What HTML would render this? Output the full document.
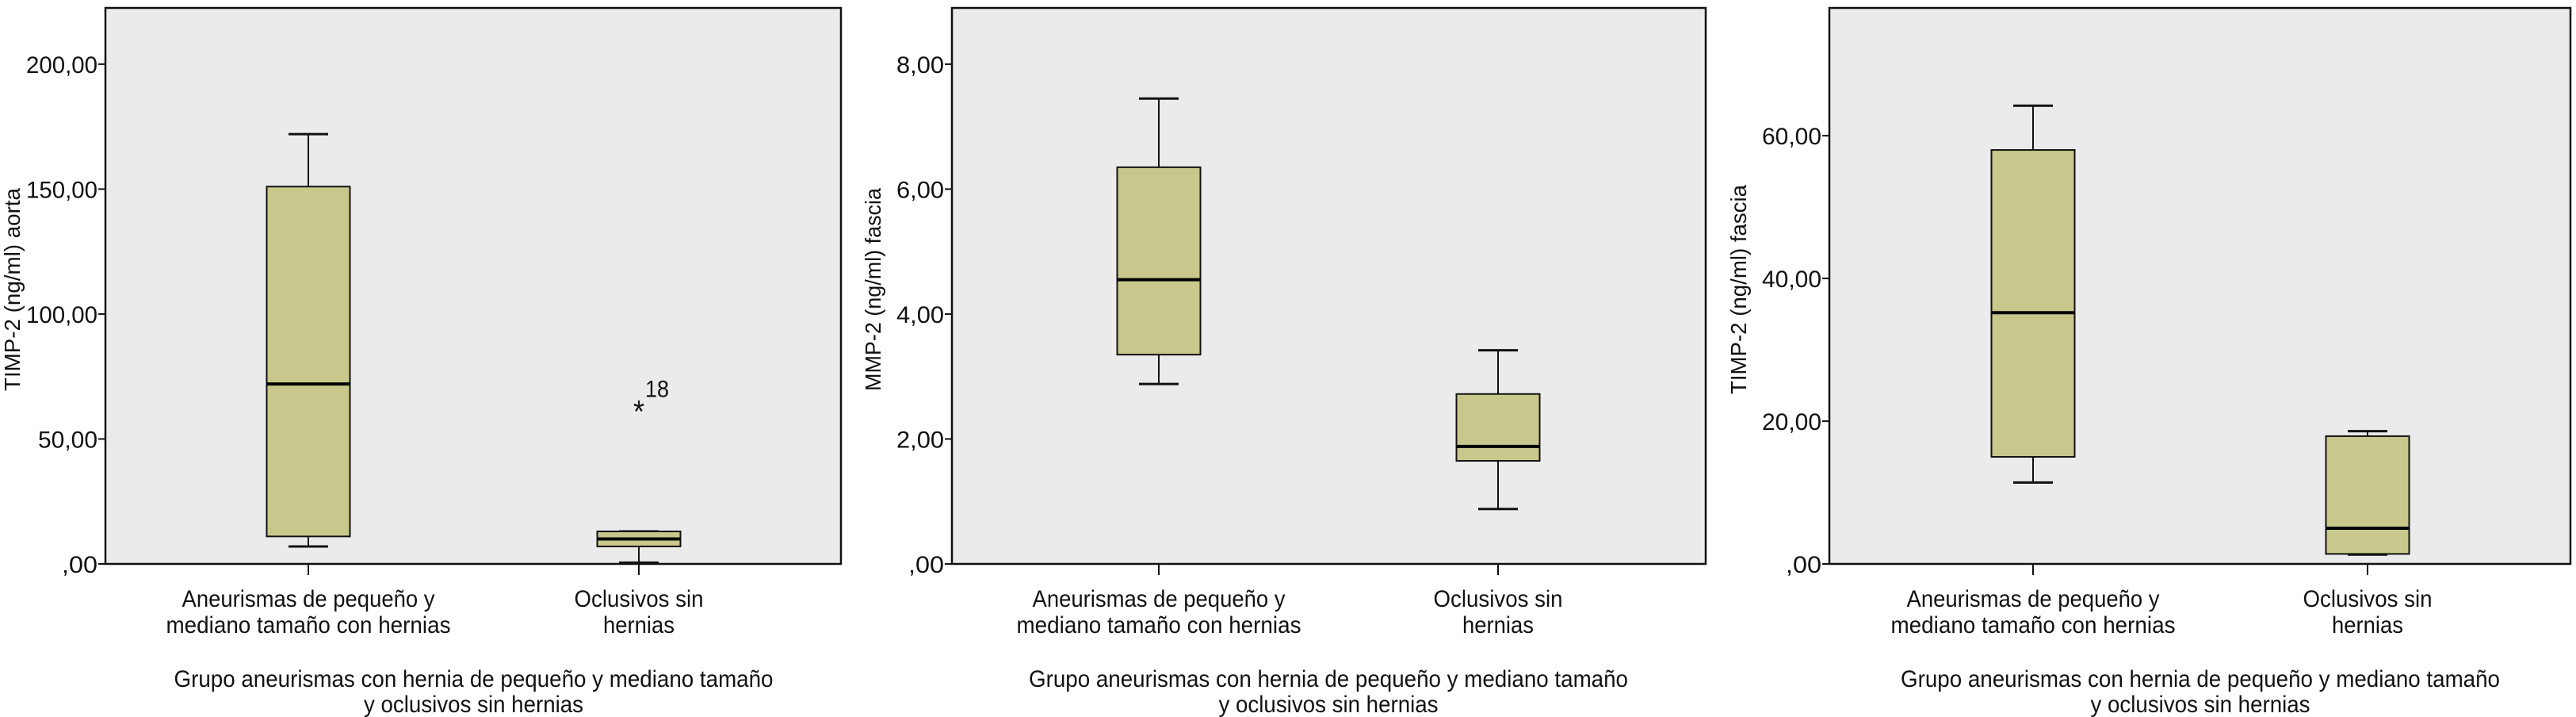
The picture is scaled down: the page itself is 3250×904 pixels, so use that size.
<!DOCTYPE html>
<html><head><meta charset="utf-8"><style>
html,body{margin:0;padding:0;background:#fff;}
svg{display:block;font-family:"Liberation Sans Narrow","Liberation Sans",sans-serif;}
</style></head><body>
<svg id="c" width="3250" height="904" viewBox="0 0 3250 904" xmlns="http://www.w3.org/2000/svg"></svg>
<script>
const categories = ["Aneurismas de pequeño y|mediano tamaño con hernias", "Oclusivos sin|hernias"];
const p1Stats = [[7, 11, 72, 151, 172], [0.5, 7, 10, 13, 13]];
const p1Outliers = [[], [{v: 63, label: "18"}]];
const p1Ticks = [0, 50, 100, 150, 200];
const p1TickLabels = [",00", "50,00", "100,00", "150,00", "200,00"];
const p2Stats = [[2.88, 3.35, 4.55, 6.35, 7.45], [0.88, 1.65, 1.88, 2.72, 3.42]];
const p2Ticks = [0, 2, 4, 6, 8];
const p2TickLabels = [",00", "2,00", "4,00", "6,00", "8,00"];
const p3Stats = [[11.4, 15, 35.2, 58, 64.2], [1.3, 1.4, 5, 17.9, 18.6]];
const p3Ticks = [0, 20, 40, 60];
const p3TickLabels = [",00", "20,00", "40,00", "60,00"];

const NS = "http://www.w3.org/2000/svg";
const svg = document.getElementById("c");
function mk(tag, attrs, parent) {
  const e = document.createElementNS(NS, tag);
  for (const k in attrs) e.setAttribute(k, attrs[k]);
  (parent || svg).appendChild(e);
  return e;
}
function txt(parent, x, y, s, len, anchor, extra) {
  const t = mk("text", Object.assign({x: x, y: y, "font-size": 30, fill: "#111", "text-anchor": anchor || "middle"}, extra || {}), parent);
  if (len) { t.setAttribute("textLength", len); t.setAttribute("lengthAdjust", "spacingAndGlyphs"); }
  t.textContent = s;
  return t;
}
const catW = [[319, 359], [163, 90]];
function panel(cfg) {
  const g = mk("g", {});
  
  
  const top = 10, bot = 711;
  const y = v => bot - (v / cfg.max) * (bot - top);
  const bg = mk("rect", {x: cfg.left, y: top, width: cfg.right - cfg.left, height: bot - top, fill: "#ebebeb", stroke: "#111", "stroke-width": 2.5}, g);
  
  
  // y ticks
  cfg.ticks.forEach((tv, i) => {
    const yy = y(tv);
    const tk = mk("line", {x1: cfg.left - 9, x2: cfg.left, y1: yy, y2: yy, stroke: "#111", "stroke-width": 2}, g);
    
    
    const lab = cfg.tickLabels[i];
    const w = lab.length * 15;
    const tl = txt(g, cfg.left - 10, yy + 11, lab, w, "end");
    
    
  });
  // y title
  const yt = txt(g, 0, 0, cfg.ylabel, cfg.ylen, "middle", {transform: "translate(" + (cfg.ylx + 10) + ",365) rotate(-90)", "font-family": "Liberation Sans, sans-serif", "font-size": 28});
  
  
  // boxes
  cfg.stats.forEach((s, i) => {
    const cx = cfg.centers[i], hw = 52.5, cw = 25;
    const bx = mk("g", {}, g);
    
    
    mk("line", {x1: cx, x2: cx, y1: y(s[3]), y2: y(s[4]), stroke: "#111", "stroke-width": 2}, bx);
    mk("line", {x1: cx, x2: cx, y1: y(s[1]), y2: y(s[0]), stroke: "#111", "stroke-width": 2}, bx);
    mk("line", {x1: cx - cw, x2: cx + cw, y1: y(s[4]), y2: y(s[4]), stroke: "#111", "stroke-width": 3}, bx);
    mk("line", {x1: cx - cw, x2: cx + cw, y1: y(s[0]), y2: y(s[0]), stroke: "#111", "stroke-width": 3}, bx);
    mk("rect", {x: cx - hw, y: y(s[3]), width: 2 * hw, height: y(s[1]) - y(s[3]), fill: "#c8c88c", stroke: "#111", "stroke-width": 2}, bx);
    mk("line", {x1: cx - hw, x2: cx + hw, y1: y(s[2]), y2: y(s[2]), stroke: "#000", "stroke-width": 4}, bx);
    (cfg.outliers ? cfg.outliers[i] : []).forEach(o => {
      const st = txt(bx, cx, y(o.v) + 20, "*", 14, "middle", {"font-size": 40});
      
      
      const ol = txt(bx, cx + 8, y(o.v) - 12, o.label, 30, "start", {"font-size": 30});
      
      
    });
    const xt = mk("line", {x1: cx, x2: cx, y1: bot, y2: bot + 14, stroke: "#111", "stroke-width": 2}, g);
    
    
    const lines = categories[i].split("|");
    lines.forEach((ln, j) => {
      const cl = txt(g, cx, 765 + j * 33, ln, catW[i][j]);
      
      
    });
  });
  const mid = (cfg.centers[0] + cfg.centers[1]) / 2;
  const a1 = txt(g, mid, 866, "Grupo aneurismas con hernia de pequeño y mediano tamaño", 756);
  
  
  const a2 = txt(g, mid, 898, "y oclusivos sin hernias", 277);
  
  
}
panel({name: "panel-timp2-aorta", left: 133, right: 1061, max: 222.5, centers: [389, 806], stats: p1Stats, outliers: p1Outliers, ticks: p1Ticks, tickLabels: p1TickLabels, ylabel: "TIMP-2 (ng/ml) aorta", ylen: 256, ylx: 15});
panel({name: "panel-mmp2-fascia", left: 1201, right: 2152, max: 8.9, centers: [1462, 1890], stats: p2Stats, ticks: p2Ticks, tickLabels: p2TickLabels, ylabel: "MMP-2 (ng/ml) fascia", ylen: 256, ylx: 1101});
panel({name: "panel-timp2-fascia", left: 2308, right: 3243, max: 77.9, centers: [2565, 2987], stats: p3Stats, ticks: p3Ticks, tickLabels: p3TickLabels, ylabel: "TIMP-2 (ng/ml) fascia", ylen: 264, ylx: 2193});
</script>
</body></html>
